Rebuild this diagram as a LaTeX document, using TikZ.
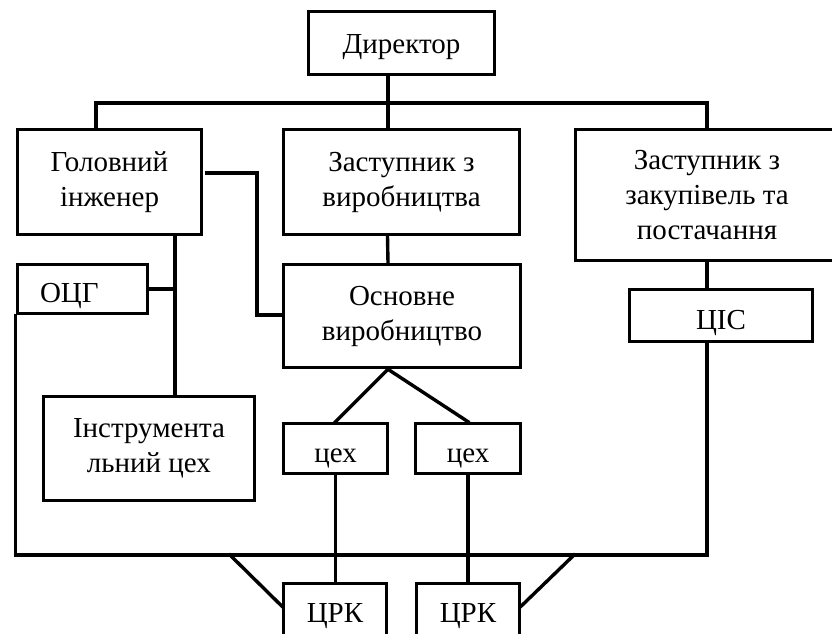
\documentclass[tikz,border=0pt]{standalone}
\usepackage{fontspec}
\setmainfont{Liberation Serif}
\begin{document}
\begin{tikzpicture}[x=1pt,y=-1pt,
  box/.style={draw, line width=3.6pt, inner sep=0pt, align=center,
    font=\fontsize{29}{35}\selectfont},
  onebox/.style={draw, line width=3.6pt, inner sep=0pt,
    font=\fontsize{29}{35}\selectfont, text depth=0pt},
  ln/.style={line width=3.4pt, line cap=rect}]
\useasboundingbox (0,0) rectangle (832,634);
\clip (0,0) rectangle (832,634);
\fill[white] (0,0) rectangle (832,634);
% boxes
\node[onebox, text height=20pt, minimum width=186pt, minimum height=63pt] (dir) at (401.5,43) {Директор};
\node[box, minimum width=184pt, minimum height=105pt] (hol) at (109.5,182) {Головний\\інженер};
\node[box, minimum width=236pt, minimum height=105pt] (zv) at (401.5,182) {Заступник з\\виробництва};
\node[box, minimum width=263pt, minimum height=131pt] (zz) at (707,195) {Заступник з\\закупівель та\\постачання};
\node[onebox, text height=26pt, minimum width=130pt, minimum height=49pt] (ocg) at (82.5,289) {\makebox[85pt][l]{ОЦГ}};
\node[box, minimum width=237pt, minimum height=103pt] (osn) at (402,316) {Основне\\виробництво};
\node[box, minimum width=211pt, minimum height=104pt] (ins) at (149,448.5) {Інструмента\\льний цех};
\node[onebox, text height=27pt, minimum width=104pt, minimum height=50pt] (cehL) at (335.5,448.5) {цех};
\node[onebox, text height=27pt, minimum width=105pt, minimum height=50pt] (cehR) at (468,448.5) {цех};
\node[onebox, text height=27pt, minimum width=183pt, minimum height=52pt] (cis) at (721,315.5) {ЦІС};
\node[onebox, text height=20pt, minimum width=103pt, minimum height=57pt] (crkL) at (335,612) {ЦРК};
\node[onebox, text height=20pt, minimum width=103pt, minimum height=57pt] (crkR) at (468,612) {ЦРК};
% helper coordinates
\coordinate (bt) at (388,103);
\coordinate (bb) at (388,555);
\coordinate (hv) at ([xshift=65.5pt]hol.south);
\coordinate (hl) at ([yshift=9pt,xshift=3pt]hol.east);
\coordinate (hk) at (257,173);
\coordinate (dl) at (230,555);
\coordinate (dr) at (574,555);
% connectors
\draw[ln] ([xshift=-13.5pt]dir.south) -- ([xshift=-13.5pt]zv.north);
\draw[ln] ([xshift=-13.5pt]hol.north) |- (bt) -| (zz.north);
\draw[ln] ([xshift=-14pt]zv.south) -- ([xshift=-14pt]osn.north);
\draw[ln] (hv) -- (hv |- ins.north);
\draw[ln] (ocg.east) -- (ocg.east -| hv);
\draw[ln] (hl) -- (hk) |- ([yshift=1pt]osn.west);
\draw[ln] ([xshift=-14pt]osn.south) -- (cehL.north);
\draw[ln] ([xshift=-14pt]osn.south) -- (cehR.north);
\draw[ln] (cehL.south) -- (cehL.south |- crkL.north);
\draw[ln] (cehR.south) -- (cehR.south |- crkR.north);
\draw[ln] (zz.south) -- ([xshift=-14pt]cis.north);
\draw[ln] (ocg.south west) |- (bb) -| ([xshift=-14pt]cis.south);
\draw[ln] (dl) -- ([yshift=6pt]crkL.west);
\draw[ln] (dr) -- ([yshift=6pt]crkR.east);
\end{tikzpicture}
\end{document}
